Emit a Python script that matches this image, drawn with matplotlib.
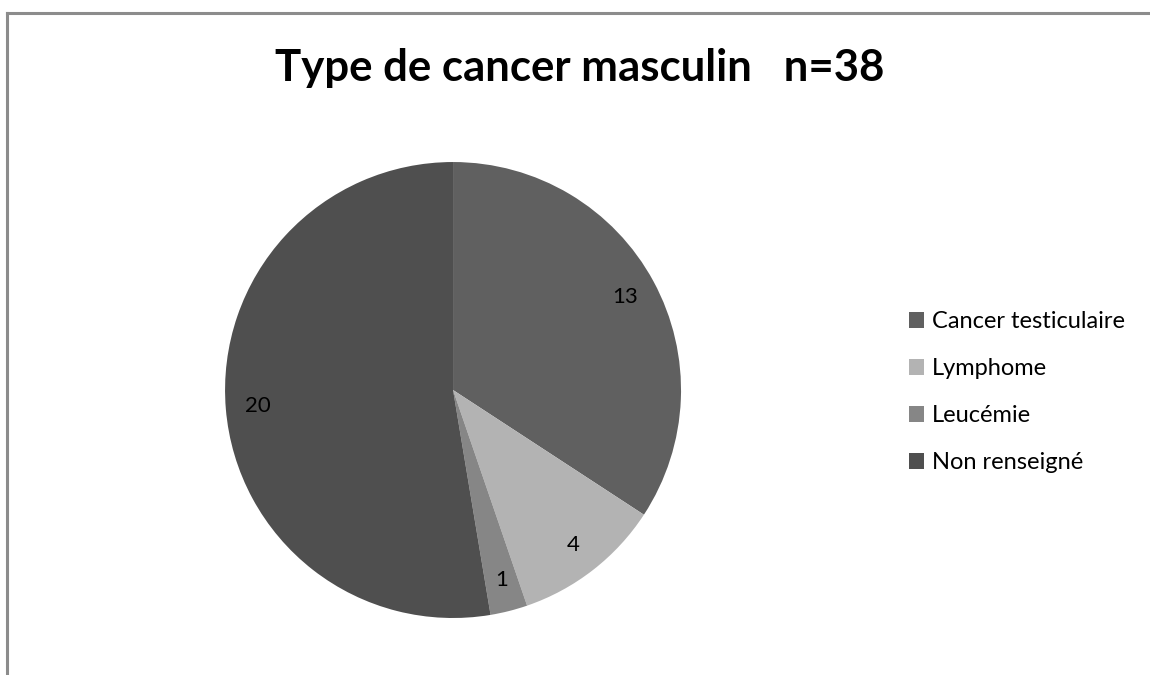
import matplotlib
matplotlib.use('Agg')
import matplotlib.pyplot as plt
from matplotlib.lines import Line2D

categories = ['Cancer testiculaire', 'Lymphome', 'Leucémie', 'Non renseigné']
counts = [13, 4, 1, 20]
colors = ['#606060', '#b3b3b3', '#868686', '#4f4f4f']
title = 'Type de cancer masculin   n=38'

plt.rcParams['font.family'] = ['Lato', 'DejaVu Sans']

fig = plt.figure(figsize=(11.5, 6.75), dpi=100)

# frame (top and left edges visible)
fig.add_artist(Line2D([7/1150, 7/1150], [0, 1 - 13/675], color='#8c8c8c', lw=2.2))
fig.add_artist(Line2D([7/1150, 1149/1150], [1 - 13/675, 1 - 13/675], color='#8c8c8c', lw=2.2))

ax = fig.add_axes([0.1957, 0.0844, 0.3965, 0.6756])
wedges, texts, autotexts = ax.pie(
    counts, colors=colors, startangle=90, counterclock=False,
    autopct=lambda p: '%d' % round(p * sum(counts) / 100),
    pctdistance=0.86, textprops={'fontsize': 16, 'color': 'black'},
    wedgeprops={'linewidth': 0})
ax.set_xlim(-1, 1)
ax.set_ylim(-1, 1)
ax.set_aspect('equal')

fig.text(0.504, 1 - 68/675, title, ha='center', va='center',
         fontsize=31.5, fontweight='bold')

fig.legend(wedges, categories, loc='upper left',
           bbox_to_anchor=(888/1150, 1 - 290/675), frameon=False,
           fontsize=17, handlelength=0.62, handleheight=0.62,
           handletextpad=0.35, labelspacing=1.1)

fig.savefig('out.png', dpi=100)
